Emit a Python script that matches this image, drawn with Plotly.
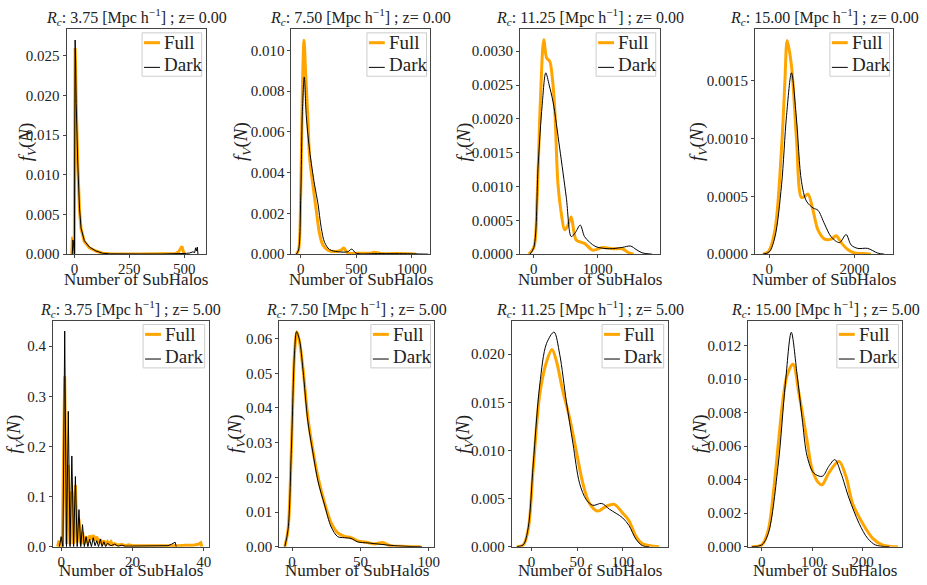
import plotly.graph_objects as go

W, H = 927, 585

# ---------------- data ----------------
titles = ["3.75", "7.50", "11.25", "15.00", "3.75", "7.50", "11.25", "15.00"]
redshifts = ["0.00", "0.00", "0.00", "0.00", "5.00", "5.00", "5.00", "5.00"]
series_names = ["Full", "Dark"]
x_label = "Number of SubHalos"

# Panel 1: Rc 3.75, z 0
p1_full_x = [-12, -9, -6, -3, -1, 1, 3, 5, 8, 10, 15, 23, 30, 45, 68, 98, 128, 160, 200, 300, 400, 460, 475, 485, 490, 494, 498, 502]
p1_full_y = [0, 0.0022, 0.0015, 0.0, 0.0, 0.012, 0.026, 0.024, 0.019, 0.0155, 0.0115, 0.0055, 0.0032, 0.0016, 0.0008, 0.0004, 0.00012, 0.00005, 0.00003, 0.00003, 0.00004, 0.00008, 0.0003, 0.0008, 0.001, 0.0005, 0.0001, 0]
p1_dark_x = [-10, -7, -4, -2, 0, 1, 3, 5, 8, 10, 15, 23, 30, 45, 68, 98, 128, 160, 200, 300, 400, 480, 510, 525, 540, 548, 552, 556, 560, 563]
p1_dark_y = [0, 0.0018, 0.0012, 0.0, 0.0, 0.012, 0.027, 0.0245, 0.019, 0.0155, 0.0115, 0.0058, 0.0033, 0.0017, 0.0009, 0.0004, 0.00012, 0.00004, 0.00002, 0.00002, 0.00002, 0.00003, 0.0001, 0.00015, 0.0003, 0.0002, 0.0008, 0.0004, 0.0009, 0]

# Panel 2: Rc 7.50, z 0
p2_full_x = [-40, -20, 0, 15, 30, 45, 65, 81, 110, 140, 170, 200, 245, 305, 364, 388, 424, 543, 633, 663, 723, 842, 991, 1040]
p2_full_y = [0, 0.0002, 0.003, 0.008, 0.0105, 0.0088, 0.0066, 0.0047, 0.0034, 0.00215, 0.001, 0.00045, 0.0002, 0.00013, 0.0002, 0.0003, 0.00006, 0.00005, 0.00005, 0.0001, 0.00003, 0.00003, 0.00002, 0]
p2_dark_x = [-40, -20, 0, 15, 32, 50, 80, 125, 155, 185, 215, 260, 334, 424, 460, 500, 693, 991, 1080, 1150]
p2_dark_y = [0, 0.0002, 0.0028, 0.007, 0.0087, 0.0068, 0.0051, 0.0034, 0.0025, 0.0013, 0.00058, 0.00023, 0.00012, 0.00012, 0.00025, 0.00005, 0.00003, 0.00002, 0.00001, 0]

# Panel 3: Rc 11.25, z 0
p3_full_x = [-80, 0, 50, 100, 156, 200, 249, 290, 327, 378, 430, 482, 530, 585, 663, 793, 922, 1073, 1250, 1384, 1487, 1560]
p3_full_y = [0, 0.0001, 0.0008, 0.0022, 0.00317, 0.0029, 0.00285, 0.0026, 0.00215, 0.00103, 0.0006, 0.00036, 0.00042, 0.00055, 0.00021, 0.00016, 0.00006, 0.0001, 0.00008, 0.00008, 0.00002, 0]
p3_dark_x = [-60, 0, 68, 130, 187, 240, 301, 404, 508, 586, 650, 726, 793, 870, 974, 1181, 1384, 1514, 1600, 1695, 1850]
p3_dark_y = [0, 0.0001, 0.00133, 0.0022, 0.00268, 0.0025, 0.00225, 0.00157, 0.00084, 0.00026, 0.00032, 0.00043, 0.00026, 0.00018, 0.00011, 0.00008, 0.0001, 0.00012, 0.00007, 0.00002, 0]

# Panel 4: Rc 15.00, z 0
p4_full_x = [-150, -23, 133, 288, 366, 420, 521, 638, 755, 830, 910, 1027, 1143, 1299, 1454, 1571, 1688, 1843, 1999, 2200, 2388]
p4_full_y = [0, 0.00002, 0.00021, 0.00092, 0.00149, 0.00185, 0.00163, 0.001, 0.00049, 0.0005, 0.00052, 0.00038, 0.00021, 0.00013, 0.00013, 0.00016, 0.0001, 0.00004, 0.00001, 0.000005, 0]
p4_dark_x = [-150, 0, 133, 288, 405, 521, 638, 755, 871, 1027, 1143, 1299, 1454, 1649, 1804, 1921, 2077, 2311, 2544, 2700]
p4_dark_y = [0, 0.00002, 0.00015, 0.0006, 0.0012, 0.00157, 0.00117, 0.00063, 0.00046, 0.0004, 0.00038, 0.00026, 0.00015, 0.0001, 0.00017, 0.00008, 0.00005, 0.00005, 0.00001, 0]

# Panel 5: Rc 3.75, z 5
p5_full_x = [-1, -0.6, -0.3, 0, 0.3, 1, 1.5, 2, 2.5, 3, 3.5, 4, 4.5, 5, 5.5, 6, 6.5, 7, 7.5, 8, 8.5, 9, 9.5, 10, 10.5, 11, 11.5, 12, 12.5, 13, 13.5, 14, 14.5, 15, 16, 17, 18, 19, 20, 22, 25, 28, 30, 33, 35, 37, 38.5, 39.2, 39.5]
p5_full_y = [0, 0.012, 0.0, 0.005, 0.0, 0.34, 0.005, 0.163, 0.005, 0.11, 0.005, 0.123, 0.008, 0.055, 0.005, 0.03, 0.005, 0.02, 0.008, 0.022, 0.015, 0.023, 0.012, 0.02, 0.008, 0.015, 0.005, 0.012, 0.004, 0.01, 0.005, 0.01, 0.004, 0.006, 0.003, 0.005, 0.002, 0.004, 0.002, 0.002, 0.001, 0.002, 0.002, 0.002, 0.003, 0.003, 0.005, 0.008, 0.0]
p5_dark_x = [-0.5, 0, 0.5, 1, 1.5, 2, 2.5, 3, 3.5, 4, 4.5, 5, 5.5, 6, 6.5, 7, 7.5, 8, 8.5, 9, 9.5, 10, 10.5, 11, 11.5, 12, 12.5, 13, 14, 15, 16, 17, 18, 20, 25, 30, 31, 32, 32.3]
p5_dark_y = [0, 0.02, 0.0, 0.43, 0.0, 0.27, 0.0, 0.181, 0.0, 0.14, 0.0, 0.074, 0.0, 0.044, 0.0, 0.02, 0.0, 0.015, 0.0, 0.018, 0.002, 0.012, 0.0, 0.015, 0.0, 0.01, 0.0, 0.007, 0.002, 0.005, 0.001, 0.003, 0.001, 0.001, 0.001, 0.002, 0.005, 0.009, 0.0]

# Panel 6: Rc 7.50, z 5
p6_full_x = [-5.3, -2.9, -0.5, 1.9, 3.6, 5.5, 8, 11.6, 15.3, 18.9, 23.8, 28.6, 33.4, 38.3, 43.1, 48, 55.2, 60, 66.1, 72, 84, 94]
p6_full_y = [0, 0.005, 0.028, 0.0563, 0.062, 0.059, 0.0514, 0.0372, 0.0277, 0.0202, 0.0126, 0.0069, 0.004, 0.003, 0.0026, 0.0017, 0.0012, 0.0008, 0.0012, 0.0003, 0.0001, 0]
p6_dark_x = [-5.3, -2.9, -0.5, 1.9, 3.3, 5.5, 8, 11.6, 15.3, 18.9, 23.8, 28.6, 33.4, 38.3, 43.1, 48, 55.2, 60, 72, 84, 95]
p6_dark_y = [0, 0.005, 0.028, 0.0565, 0.062, 0.0595, 0.051, 0.036, 0.027, 0.019, 0.012, 0.0057, 0.0029, 0.0026, 0.0024, 0.0014, 0.0011, 0.0009, 0.0004, 0.0001, 0]

# Panel 7: Rc 11.25, z 5
p7_full_x = [-16.4, -9, -3.6, 1.8, 9, 16.4, 22.5, 27.3, 34.5, 41.8, 49, 56.3, 63.6, 72.7, 81.8, 90.9, 100, 107, 114.5, 121.8, 140]
p7_full_y = [0, 0.0002, 0.0018, 0.008, 0.0158, 0.0192, 0.0205, 0.0193, 0.0161, 0.0134, 0.01, 0.0066, 0.0045, 0.0037, 0.0042, 0.0044, 0.0035, 0.0027, 0.0011, 0.0003, 0]
p7_dark_x = [-16, -9, -3.6, 1.8, 9, 16.4, 24.7, 30.9, 38.2, 45.5, 52.7, 60, 67.3, 77, 85.5, 100, 107, 114.5, 121.8, 129]
p7_dark_y = [0, 0.0002, 0.002, 0.0085, 0.0168, 0.0211, 0.0223, 0.02, 0.0151, 0.0107, 0.0066, 0.0049, 0.0043, 0.0045, 0.0039, 0.003, 0.0022, 0.0008, 0.0001, 0]

# Panel 8: Rc 15.00, z 5
p8_full_x = [-20, 0, 13, 23, 33, 41, 50, 62, 74, 89, 100, 113, 120, 133, 153, 167, 180, 200, 220, 240, 270]
p8_full_y = [0, 0.0001, 0.001, 0.0032, 0.0062, 0.0085, 0.0102, 0.0109, 0.0091, 0.0065, 0.0046, 0.0038, 0.0037, 0.0044, 0.0051, 0.0042, 0.0026, 0.0014, 0.0005, 0.0001, 0]
p8_dark_x = [-20, 0, 13, 33, 46.7, 58.6, 70, 80, 90, 103, 120, 133, 145, 157, 173, 193, 210, 226, 253]
p8_dark_y = [0, 0.0001, 0.0008, 0.005, 0.0097, 0.0128, 0.0103, 0.0077, 0.0054, 0.0044, 0.0042, 0.0048, 0.0052, 0.0044, 0.0029, 0.0014, 0.0005, 0.0001, 0]

full_xs = [p1_full_x, p2_full_x, p3_full_x, p4_full_x, p5_full_x, p6_full_x, p7_full_x, p8_full_x]
full_ys = [p1_full_y, p2_full_y, p3_full_y, p4_full_y, p5_full_y, p6_full_y, p7_full_y, p8_full_y]
dark_xs = [p1_dark_x, p2_dark_x, p3_dark_x, p4_dark_x, p5_dark_x, p6_dark_x, p7_dark_x, p8_dark_x]
dark_ys = [p1_dark_y, p2_dark_y, p3_dark_y, p4_dark_y, p5_dark_y, p6_dark_y, p7_dark_y, p8_dark_y]

x_ticks = [[0, 250, 500], [0, 500, 1000], [0, 1000], [0, 2000],
           [0, 20, 40], [0, 50, 100], [0, 50, 100], [0, 100, 200]]
y_ticks = [[0, 0.005, 0.010, 0.015, 0.020, 0.025],
           [0, 0.002, 0.004, 0.006, 0.008, 0.010],
           [0, 0.0005, 0.0010, 0.0015, 0.0020, 0.0025, 0.0030],
           [0, 0.0005, 0.0010, 0.0015],
           [0, 0.1, 0.2, 0.3, 0.4],
           [0, 0.01, 0.02, 0.03, 0.04, 0.05, 0.06],
           [0, 0.005, 0.010, 0.015, 0.020],
           [0, 0.002, 0.004, 0.006, 0.008, 0.010, 0.012]]
y_fmt = [".3f", ".3f", ".4f", ".4f", ".1f", ".2f", ".3f", ".3f"]

# ---------------- layout geometry (pixels) ----------------
x_ranges = [[-36, 598], [-84, 1170], [-218, 1970], [-334, 2917],
            [-2.3, 41.4], [-9.4, 104.1], [-21.8, 149.4], [-27, 279]]
y_tops = [0.0284, 0.01106, 0.00333, 0.00195, 0.451, 0.0652, 0.0235, 0.0135]
box_px = [(67, 207), (293.3, 433.3), (523.3, 664), (760, 899.3),
          (53.3, 210), (281, 437.3), (515, 672), (753, 908.3)]
row_px = [(29.3, 257.7), (325, 554.3)]
ylab_px = [27, 243, 468, 702, 15, 237, 467, 705]
xlab_mid_px = [283, 578]
legend_w = [60, 60, 60, 60, 62, 60, 62, 62]
spiky = [True, False, False, False, True, False, False, False]

FONT = "Liberation Serif"
TXT = "#222222"
ORANGE = "#FFA500"
COLORS = [ORANGE, "black"]
WIDTHS = [3, 1]

fig = go.Figure()
annotations = []
shapes = []
layout = dict(
    width=W, height=H, margin=dict(l=0, r=0, t=0, b=0),
    paper_bgcolor="white", plot_bgcolor="white", showlegend=False,
    font=dict(family=FONT, color=TXT, size=14),
)


def px(xp):
    return xp / W


def py(yp):
    return 1 - yp / H


for i in range(8):
    k = i + 1
    xa = "x" if k == 1 else f"x{k}"
    ya = "y" if k == 1 else f"y{k}"
    row = 0 if i < 4 else 1
    shape = "linear" if spiky[i] else "spline"
    xs = [full_xs[i], dark_xs[i]]
    ys = [full_ys[i], dark_ys[i]]
    for s in range(2):
        line = dict(color=COLORS[s], width=WIDTHS[s], shape=shape)
        if shape == "spline":
            line["smoothing"] = 0.9
        fig.add_trace(go.Scatter(x=xs[s], y=ys[s], mode="lines", name=series_names[s],
                                 line=line, xaxis=xa, yaxis=ya))
    x0, x1 = box_px[i]
    t, b = row_px[row]
    axis_common = dict(showline=True, linecolor="#444444", linewidth=1, mirror=True,
                       ticks="outside", ticklen=3, tickwidth=1, tickcolor="#444444",
                       showgrid=False, zeroline=False,
                       tickfont=dict(family=FONT, size=15, color=TXT))
    layout["xaxis" if k == 1 else f"xaxis{k}"] = dict(
        domain=[px(x0), px(x1)], range=x_ranges[i], anchor=ya,
        tickvals=x_ticks[i], ticklabelstandoff=-2, **axis_common)
    layout["yaxis" if k == 1 else f"yaxis{k}"] = dict(
        domain=[py(b), py(t)], range=[0, y_tops[i]], anchor=xa,
        tickvals=y_ticks[i], tickformat=y_fmt[i], **axis_common)

    # legend box (drawn like the matplotlib legend)
    lx1 = x1 - 4
    lx0 = lx1 - legend_w[i]
    ly0 = t + 4
    ly1 = t + 48
    shapes.append(dict(type="rect", xref="paper", yref="paper",
                       x0=px(lx0), x1=px(lx1), y0=py(ly1), y1=py(ly0),
                       line=dict(color="#cccccc", width=1),
                       fillcolor="rgba(255,255,255,0.8)", layer="above"))
    for s, yy in enumerate([t + 14, t + 36]):
        ly = yy + (0 if s == 0 else 3)
        shapes.append(dict(type="line", xref="paper", yref="paper",
                           x0=px(lx0 + 2), x1=px(lx0 + 18), y0=py(ly), y1=py(ly),
                           line=dict(color=COLORS[s], width=WIDTHS[s]), layer="above"))
        annotations.append(dict(
            text=series_names[s], x=px(lx0 + 20), y=py(yy),
            xref="paper", yref="paper", xanchor="left", yanchor="middle",
            showarrow=False, font=dict(family=FONT, size=19, color=TXT)))

    cx = px((x0 + x1) / 2)
    annotations.append(dict(
        text=f"<i>R</i><sub><i>c</i></sub>: {titles[i]} [Mpc h<sup>−1</sup>] ; z= {redshifts[i]}",
        x=cx, y=py(t - 12), xref="paper", yref="paper",
        xanchor="center", yanchor="middle", showarrow=False,
        font=dict(family=FONT, size=16, color=TXT)))
    annotations.append(dict(
        text="<i>f</i><sub><i>V</i></sub>(<i>N</i>)",
        x=px(ylab_px[i]), y=py((t + b) / 2), xref="paper", yref="paper",
        xanchor="center", yanchor="middle", textangle=-90, showarrow=False,
        font=dict(family=FONT, size=19, color=TXT)))
    annotations.append(dict(
        text=x_label,
        x=cx, y=py(xlab_mid_px[row]), xref="paper", yref="paper",
        xanchor="center", yanchor="middle",
        showarrow=False, font=dict(family=FONT, size=17, color=TXT)))

layout["annotations"] = annotations
layout["shapes"] = shapes
fig.update_layout(**layout)
fig.write_html("out.html")
